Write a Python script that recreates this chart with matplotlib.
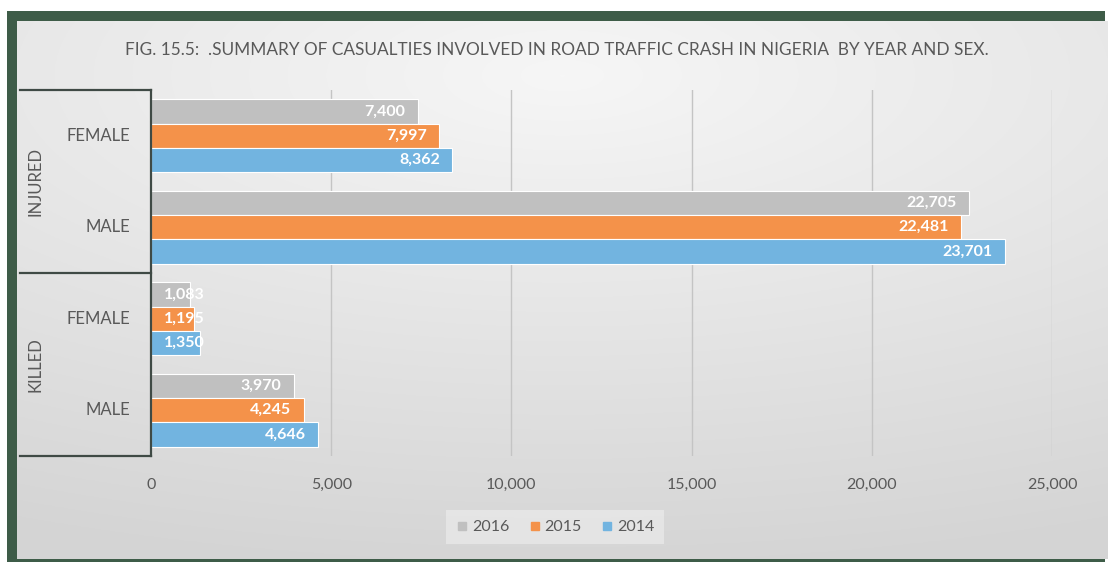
import numpy as np
import matplotlib
matplotlib.use("Agg")
import matplotlib.pyplot as plt
import matplotlib.transforms as mtransforms
from matplotlib.lines import Line2D
from matplotlib.patches import Rectangle

plt.rcParams['font.family'] = ['Lato', 'DejaVu Sans']

# ---- data ----
groups = ["INJURED", "KILLED"]
sexes = ["FEMALE", "MALE"]
years = ["2016", "2015", "2014"]
injured_female = [7400, 7997, 8362]
injured_male = [22705, 22481, 23701]
killed_female = [1083, 1195, 1350]
killed_male = [3970, 4245, 4646]
x_ticks = [0, 5000, 10000, 15000, 20000, 25000]
title = "FIG. 15.5:  .SUMMARY OF CASUALTIES INVOLVED IN ROAD TRAFFIC CRASH IN NIGERIA  BY YEAR AND SEX."

rows = [injured_female, injured_male, killed_female, killed_male]
colors = ["#c0c0c0", "#f4924a", "#72b4e0"]
text_gray = "#595959"
frame_col = "#3f4a45"

W, H = 1108, 562
fig = plt.figure(figsize=(W / 100, H / 100), dpi=100)
fig.patch.set_facecolor("white")


def fx(px):
    return px / W


def fy(py):
    return 1 - py / H


# ---- frame: green border and soft gray panel ----
green = "#3e5c48"
fig.add_artist(Rectangle((fx(7), fy(562)), fx(1105) - fx(7), fy(11) - fy(562),
                         transform=fig.transFigure, facecolor=green, edgecolor="none", zorder=0))
bg_ax = fig.add_axes([fx(17), fy(559), fx(1108) - fx(17), fy(21) - fy(559)], zorder=0)
yy, xx = np.mgrid[0:1:300j, 0:1:600j]
dist = np.sqrt(((xx - 0.5) * 1.0) ** 2 + ((yy - 0.1) * 1.3) ** 2)
shade = 0.965 - 0.11 * np.clip(dist, 0, 1.2)
bg_ax.imshow(np.dstack([shade] * 3), aspect="auto", extent=[0, 1, 1, 0])
bg_ax.set_axis_off()

# ---- main bar axes ----
left, right, top, bottom = 151, 1052, 90, 456
ax = fig.add_axes([fx(left), fy(bottom), fx(right) - fx(left), fy(top) - fy(bottom)], zorder=2)
ax.patch.set_alpha(0)

n_cat = len(rows)
bar_h = 0.8 / len(years)
offsets = [-bar_h, 0, bar_h]
for ci, vals in enumerate(rows):
    for yi, v in enumerate(vals):
        ax.barh(ci + offsets[yi], v, height=bar_h, color=colors[yi],
                edgecolor="white", linewidth=0.8, zorder=3)

ax.set_xlim(0, 25000)
ax.set_ylim(n_cat - 0.5, -0.5)
ax.set_yticks([])
ax.set_xticks(x_ticks)
ax.set_xticklabels([f"{t:,}" for t in x_ticks], color=text_gray, fontsize=11.5)
ax.tick_params(axis="x", length=0, pad=16)
for s in ["top", "right", "bottom"]:
    ax.spines[s].set_visible(False)
ax.spines["left"].set_color(frame_col)
ax.spines["left"].set_linewidth(1.6)
ax.spines["left"].set_zorder(6)
for t in x_ticks[1:]:
    ax.axvline(t, color="#c4c4c4", linewidth=1.0, zorder=1)

# ---- value labels (inside end, white) ----
renderer = fig.canvas.get_renderer()
pad_pt = 9
for ci, vals in enumerate(rows):
    for yi, v in enumerate(vals):
        y = ci + offsets[yi]
        t = ax.annotate(f"{v:,}", xy=(v, y), xytext=(-pad_pt, 0), textcoords="offset points",
                        ha="right", va="center", color="white", fontsize=11.5,
                        fontweight="bold", zorder=4)
        bb = t.get_window_extent(renderer)
        x0 = ax.transData.transform((0, y))[0]
        if bb.x0 < x0 + pad_pt * 100 / 72:
            t.remove()
            ax.annotate(f"{v:,}", xy=(0, y), xytext=(pad_pt, 0), textcoords="offset points",
                        ha="left", va="center", color="white", fontsize=11.5,
                        fontweight="bold", zorder=4, annotation_clip=False)

# ---- category labels and group frame ----
blend = mtransforms.blended_transform_factory(fig.transFigure, ax.transData)
for ci in range(n_cat):
    ax.text(fx(130), ci, sexes[ci % 2], transform=blend, ha="right", va="center",
            color=text_gray, fontsize=12)
for gi, g in enumerate(groups):
    ax.text(fx(35), gi * 2 + 0.5, g, transform=blend, ha="center", va="center",
            rotation=90, color=text_gray, fontsize=12)
for yb in [-0.5, 1.5, 3.5]:
    fig.add_artist(Line2D([fx(20), fx(left)], [yb, yb], color=frame_col, linewidth=1.6,
                          transform=blend, zorder=3))

# ---- title ----
fig.text(fx(557), fy(50), title, ha="center", va="center", color=text_gray, fontsize=12.4)

# ---- legend ----
handles = [Line2D([], [], marker="s", linestyle="none", markersize=6, color=c) for c in colors]
leg = fig.legend(handles, years, loc="center", bbox_to_anchor=(fx(555), fy(527)),
                 ncol=3, frameon=True, fontsize=11.5, handletextpad=0.2, columnspacing=1.2,
                 borderpad=0.6, handlelength=0.8)
leg.get_frame().set_facecolor("white")
leg.get_frame().set_alpha(0.35)
leg.get_frame().set_edgecolor("none")
leg.get_frame().set_boxstyle("square", pad=0)
for txt in leg.get_texts():
    txt.set_color(text_gray)

fig.savefig("out.png", dpi=100)
